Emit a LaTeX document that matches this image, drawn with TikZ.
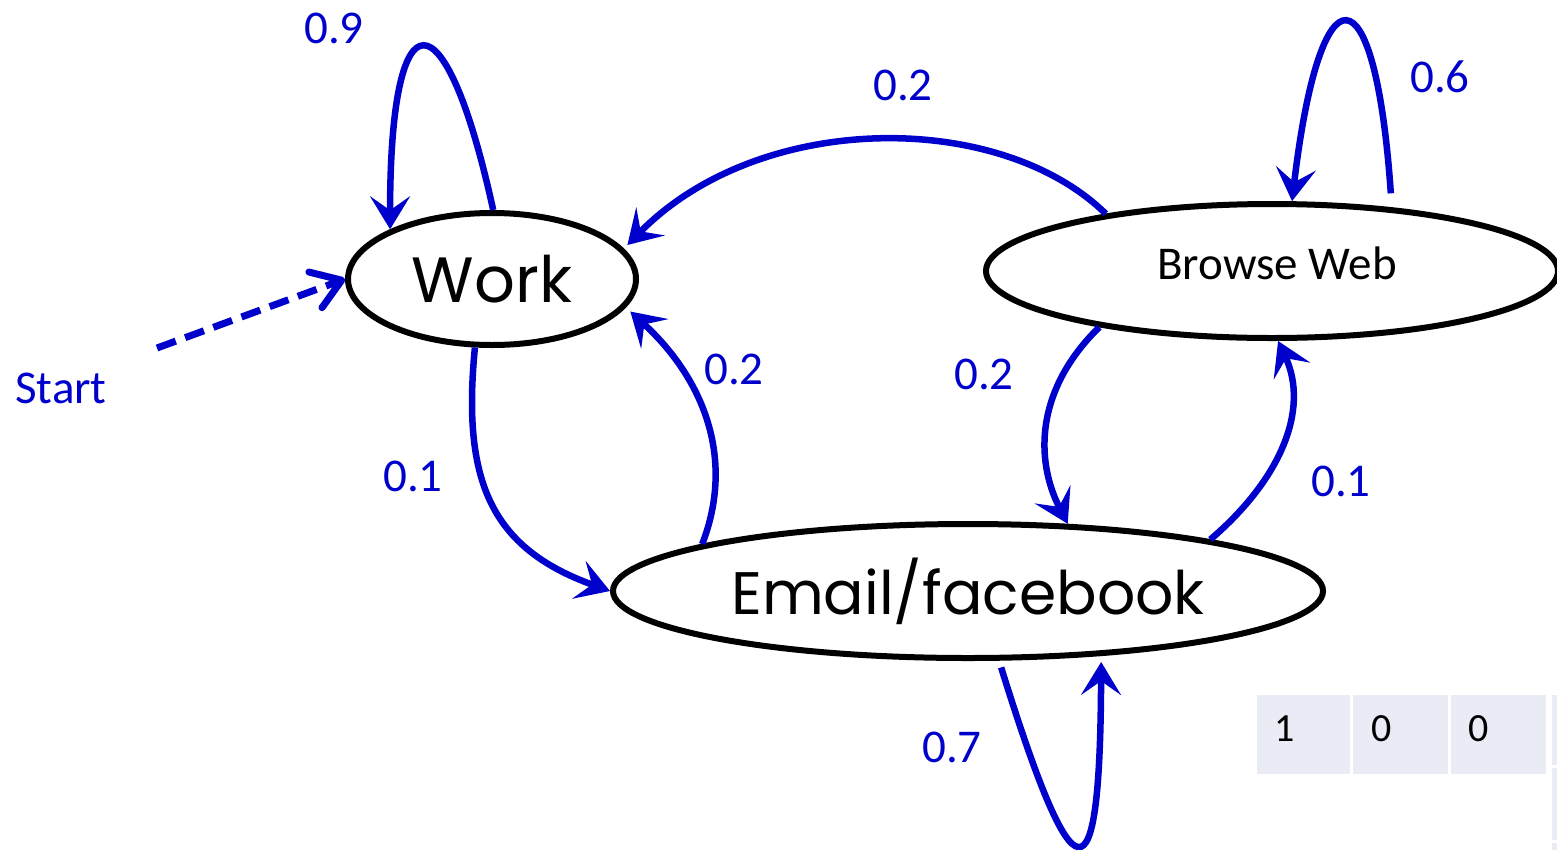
\documentclass[tikz,border=0pt]{standalone}
\usepackage{fontspec}
\setmainfont{Carlito}
\newfontfamily\comicfont{Poppins}
\usetikzlibrary{arrows.meta,shapes.geometric}
\definecolor{edgeblue}{RGB}{0,0,204}
\definecolor{cellfill}{RGB}{233,235,245}
\begin{document}
\begin{tikzpicture}[x=1pt,y=-1pt,
  state/.style={ellipse, draw=black, line width=6pt, inner sep=0pt, fill=white},
  trans/.style={draw=edgeblue, line width=6.5pt, -{Stealth[length=33pt,width=40pt,inset=14pt]}},
  startarrow/.style={draw=edgeblue, line width=7pt, dash pattern=on 20pt off 10pt, -{Straight Barb[length=28pt,width=38pt,round]}},
  prob/.style={text=edgeblue, font=\fontsize{47}{47}\selectfont, inner sep=0pt},
  cell/.style={fill=cellfill, draw=none, inner sep=0pt},
  celltext/.style={font=\fontsize{40}{40}\selectfont, inner sep=0pt, anchor=west}
]
\clip (0,0) rectangle (1557,849);
\fill[white] (0,0) rectangle (1557,849);

% table
\node[cell, minimum width=93pt, minimum height=79pt] (c1) at (1303.5,734.5) {};
\node[cell, minimum width=95pt, minimum height=79pt] (c2) at (1400.5,734.5) {};
\node[cell, minimum width=95pt, minimum height=79pt] (c3) at (1498.5,734.5) {};
\node[cell, minimum width=48pt, minimum height=70pt] (c4) at (1576,730) {};
\node[cell, minimum width=48pt, minimum height=72pt] (c5) at (1576,804) {};
\node[cell, minimum width=48pt, minimum height=40pt] (c6) at (1576,863) {};
\node[celltext] (t1) at ([xshift=17pt,yshift=5.5pt]c1.west) {1};
\node[celltext] (t2) at ([xshift=18pt,yshift=5.5pt]c2.west) {0};
\node[celltext] (t3) at ([xshift=17pt,yshift=5.5pt]c3.west) {0};

% states
\node[state, minimum width=288pt, minimum height=132pt] (work) at (492,279)
  {\comicfont\fontsize{64}{64}\selectfont Work};
\node[state, minimum width=710pt, minimum height=134pt] (email) at (968,591)
  {\comicfont\fontsize{60}{60}\selectfont Email/facebook};
\node[state, minimum width=572pt, minimum height=134pt] (browse) at (1272,271) {};
\node[inner sep=0pt, font=\fontsize{47}{47}\selectfont] (browsetext) at (1277,263) {Browse Web};

% transitions
\draw[trans] (work.89) .. controls (445,-10) and (390,-10) .. (work.154);
\draw[trans, shorten <=14pt] (browse.28) .. controls (1375,-36) and (1320,-36) .. (browse.74);
\draw[trans, shorten <=7pt, shorten >=6pt] (email.-66.6) .. controls (1075,905) and (1100,905) .. (email.-26.5);
\draw[trans] (work.256) .. controls (462,480) and (490,548) .. (email.180);
\draw[trans, shorten >=6pt] (email.170) .. controls (735,460) and (705,380) .. (work.-12);
\draw[trans, shorten >=5pt] (browse.161) .. controls (1000,110) and (760,110) .. (work.13.4);
\draw[trans] (browse.198) .. controls (1035,390) and (1035,460) .. (email.34);
\draw[trans] (email.12) .. controls (1280,480) and (1310,410) .. (browse.275);

\coordinate (startpt) at (157,348);
\draw[startarrow] (startpt) -- (work.180);

% labels
\node[prob] (p09) at (334,28) {0.9};
\node[prob] (p02a) at (903,85) {0.2};
\node[prob] (p06) at (1440,77) {0.6};
\node[prob] (pstart) at (61,388) {Start};
\node[prob] (p02b) at (734,369) {0.2};
\node[prob] (p01a) at (413,476) {0.1};
\node[prob] (p02c) at (984,374) {0.2};
\node[prob] (p01b) at (1341,481) {0.1};
\node[prob] (p07) at (952,747) {0.7};
\end{tikzpicture}
\end{document}
